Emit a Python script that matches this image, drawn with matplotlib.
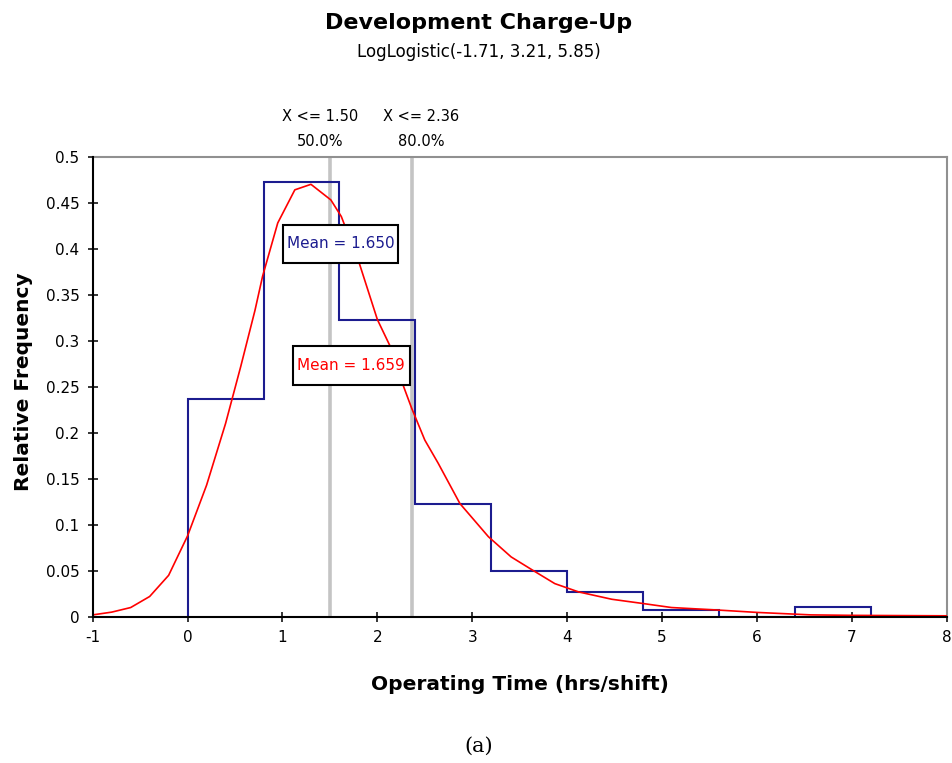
import matplotlib; matplotlib.use("Agg")
import matplotlib.pyplot as plt
from matplotlib.patches import Rectangle
from matplotlib.transforms import blended_transform_factory

# histogram (bin edges + relative frequencies)
bin_edges = [0.0, 0.8, 1.6, 2.4, 3.2, 4.0, 4.8, 5.6, 6.4, 7.2]
rel_freq = [0.237, 0.473, 0.322, 0.122, 0.050, 0.027, 0.0068, 0.0, 0.0108]

# fitted LogLogistic curve
fit_x = [-1.0, -0.8, -0.6, -0.4, -0.2, 0.0, 0.2, 0.4, 0.56, 0.71, 0.79, 0.95, 1.13, 1.30,
         1.51, 1.62, 1.81, 2.0, 2.13, 2.27, 2.36, 2.5, 2.64, 2.87, 3.17, 3.41, 3.63, 3.87,
         4.12, 4.47, 4.79, 5.1, 5.6, 6.0, 6.57, 7.0, 8.0]
fit_y = [0.002, 0.005, 0.010, 0.022, 0.045, 0.088, 0.143, 0.210, 0.272, 0.333, 0.370, 0.428,
         0.464, 0.470, 0.453, 0.435, 0.384, 0.323, 0.295, 0.252, 0.227, 0.192, 0.167, 0.123,
         0.087, 0.065, 0.051, 0.036, 0.027, 0.019, 0.0145, 0.010, 0.0072, 0.0047, 0.002,
         0.0015, 0.001]

pct_x = [1.50, 2.36]
pct_labels = ["X <= 1.50", "X <= 2.36"]
pct_values = ["50.0%", "80.0%"]
mean_hist = "Mean = 1.650"
mean_fit = "Mean = 1.659"

xticks = list(range(-1, 9))
yticks = [0, 0.05, 0.1, 0.15, 0.2, 0.25, 0.3, 0.35, 0.4, 0.45, 0.5]
ytick_labels = ["0", "0.05", "0.1", "0.15", "0.2", "0.25", "0.3", "0.35", "0.4", "0.45", "0.5"]

NAVY = "#1c1c8f"
plt.rcParams["font.family"] = ["DejaVu Sans"]
plt.rcParams["axes.unicode_minus"] = False

fig = plt.figure(figsize=(9.52, 7.63), dpi=100)
ax = fig.add_axes([0.0974, 0.1917, 0.897, 0.6029])

for xv in pct_x:
    ax.axvline(xv, color="#c4c4c4", lw=2.6, zorder=1)
ax.stairs(rel_freq, bin_edges, baseline=0, fill=False, color=NAVY, lw=1.5, zorder=2)
ax.plot(fit_x, fit_y, color="#ff0000", lw=1.2, zorder=3)

# mean boxes
ax.add_patch(Rectangle((1.003, 0.3845), 1.215, 0.0413, facecolor="white",
                       edgecolor="black", lw=1.5, zorder=4))
ax.text(1.61, 0.4052, mean_hist, color=NAVY, fontsize=11, ha="center", va="center", zorder=5)
ax.add_patch(Rectangle((1.109, 0.2518), 1.235, 0.0424, facecolor="white",
                       edgecolor="black", lw=1.5, zorder=4))
ax.text(1.726, 0.273, mean_fit, color="#ff0000", fontsize=11, ha="center", va="center", zorder=5)

ax.set_xlim(-1, 8)
ax.set_ylim(0, 0.5)
ax.set_xticks(xticks)
ax.set_yticks(yticks)
ax.set_yticklabels(ytick_labels)
ax.tick_params(direction="inout", length=7, width=1.1, labelsize=11)
ax.tick_params(axis="x", pad=6)
ax.tick_params(axis="y", pad=6)
for s in ["left", "bottom"]:
    ax.spines[s].set_linewidth(1.5)
    ax.spines[s].set_zorder(6)
for s in ["top", "right"]:
    ax.spines[s].set_color("#909090")
    ax.spines[s].set_linewidth(1.5)

ax.set_xlabel("Operating Time (hrs/shift)", fontsize=14.5, fontweight="bold")
ax.xaxis.set_label_coords(0.5, -0.127)
ax.set_ylabel("Relative Frequency", fontsize=14.5, fontweight="bold")
ax.yaxis.set_label_coords(-0.07, 0.51)

# percentile labels above the plot
tr = blended_transform_factory(ax.transData, fig.transFigure)
for xv, lab, val in zip(pct_x, pct_labels, pct_values):
    off = -0.10 if xv < 2 else 0.10
    ax.text(xv + off, 0.8467, lab, transform=tr, ha="center", va="center", fontsize=10.5)
    ax.text(xv + off, 0.8152, val, transform=tr, ha="center", va="center", fontsize=10.5)

fig.text(0.503, 0.9705, "Development Charge-Up", ha="center", va="center",
         fontsize=16, fontweight="bold")
fig.text(0.503, 0.9318, "LogLogistic(-1.71, 3.21, 5.85)", ha="center", va="center", fontsize=12)
fig.text(0.503, 0.0222, "(a)", ha="center", va="center", fontsize=15, family="DejaVu Serif")

fig.savefig("out.png", dpi=100)
